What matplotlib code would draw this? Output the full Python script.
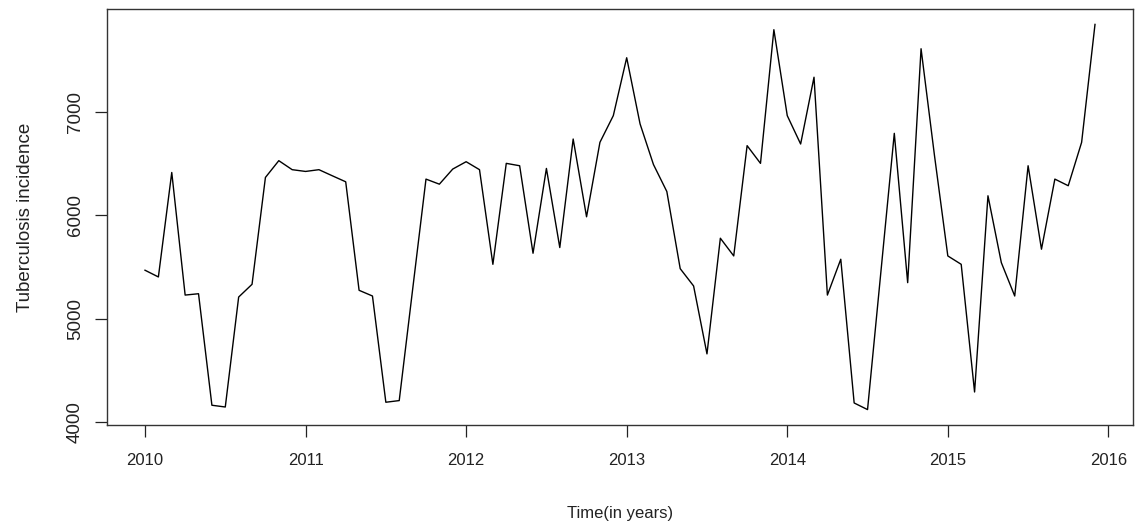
import matplotlib
matplotlib.use("Agg")
import matplotlib.pyplot as plt
import numpy as np

start_year = 2010
values = [
    5469, 5404, 6413, 5229, 5242, 4165, 4148, 5210, 5333, 6365, 6527, 6440,   # 2010
    6423, 6440, 6381, 6323, 5275, 5220, 4194, 4210, 5281, 6349, 6300, 6446,   # 2011
    6517, 6440, 5526, 6501, 6478, 5633, 6452, 5688, 6736, 5985, 6704, 6962,   # 2012
    7521, 6882, 6490, 6229, 5484, 5317, 4661, 5778, 5607, 6672, 6501, 7792,   # 2013
    6962, 6688, 7333, 5229, 5575, 4187, 4123, 5455, 6791, 5349, 7608, 6580,   # 2014
    5607, 5526, 4293, 6188, 5542, 5220, 6478, 5672, 6349, 6285, 6704, 7843,   # 2015
]
yticks = [4000, 5000, 6000, 7000]
xticks = [2010, 2011, 2012, 2013, 2014, 2015, 2016]
xlabel = "Time(in years)"
ylabel = "Tuberculosis incidence"

t = start_year + np.arange(len(values)) / 12.0

plt.rcParams['font.family'] = ['Liberation Sans', 'DejaVu Sans']

fig = plt.figure(figsize=(11.39, 5.29), dpi=100)
ax = fig.add_axes([107/1139, 1 - 425/529, (1133-107)/1139, (425-9)/529])
ax.plot(t, values, color='black', lw=1.0)

xr = t[-1] - t[0]
ax.set_xlim(t[0] - 0.04*xr, t[-1] + 0.04*xr)
yr = max(values) - min(values)
ax.set_ylim(min(values) - 0.04*yr, max(values) + 0.04*yr)

ax.set_xticks(xticks)
ax.set_xticklabels([str(x) for x in xticks], fontsize=12)
ax.set_yticks(yticks)
ax.set_yticklabels([str(y) for y in yticks], fontsize=13.5, rotation=90, va='center')
ax.tick_params(axis='x', length=8.5, width=0.9, pad=12, colors='#222222', labelcolor='#222222')
ax.tick_params(axis='y', length=8.5, width=0.9, pad=8, colors='#222222', labelcolor='#222222')
for s in ax.spines.values():
    s.set_linewidth(1.0)
    s.set_color('#333333')

ax.set_xlabel(xlabel, fontsize=12, labelpad=27, color='#222222')
ax.set_ylabel(ylabel, fontsize=13.5, labelpad=24, color='#222222')

fig.savefig("out.png", dpi=100, facecolor='white')
